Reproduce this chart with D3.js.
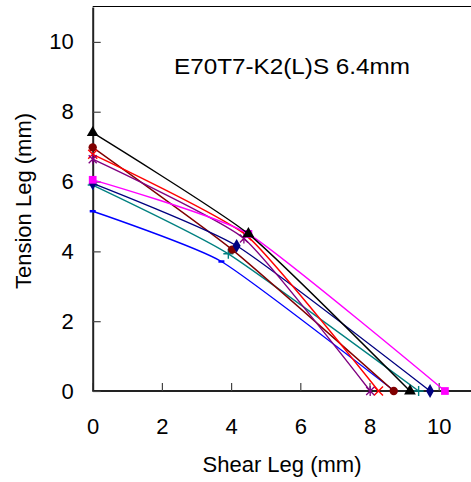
<!DOCTYPE html>
<html><head><meta charset="utf-8">
<script src="https://cdn.jsdelivr.net/npm/d3@7"></script>
<style>body{margin:0;background:#fff}svg{display:block;font-family:Arial,"Liberation Sans",sans-serif}</style>
</head><body><svg id="c" width="471" height="482"></svg>
<script>
const xTicks = [0, 2, 4, 6, 8, 10];
const yTicks = [0, 2, 4, 6, 8, 10];
const seriesNames = ["black", "maroon", "red", "purple", "magenta", "navy", "teal", "blue"];
const seriesColors = ["#000000", "#800000", "#ff0000", "#800080", "#ff00ff", "#000080", "#008080", "#0000ff"];
const seriesMarkers = ["triangle", "circle", "x", "asterisk", "square", "diamond", "plus", "dash"];
const shearValues = [
  [0, 4.5, 9.17],
  [0, 4.03, 8.7],
  [0, 4.45, 8.26],
  [0, 4.37, 8.02],
  [0, 4.5, 10.18],
  [0, 4.16, 9.75],
  [0, 3.92, 9.42],
  [0, 3.72, 8.72]
];
const tensionValues = [
  [7.4, 4.5, 0],
  [6.98, 4.05, 0],
  [6.78, 4.45, 0],
  [6.64, 4.37, 0],
  [6.05, 4.5, 0],
  [5.95, 4.16, 0],
  [5.9, 3.93, 0],
  [5.15, 3.71, 0]
];
const chartTitle = "E70T7-K2(L)S 6.4mm";
const xLabel = "Shear Leg (mm)";
const yLabel = "Tension Leg (mm)";

const svg = d3.select("#c");
const x = d3.scaleLinear().domain([0, 11]).range([92.7, 473.3]);
const y = d3.scaleLinear().domain([0, 11]).range([391, 7]);

svg.append("line").attr("x1", x(0)).attr("x2", 471).attr("y1", y(11) - 0.5).attr("y2", y(11) - 0.5)
  .attr("stroke", "#000").attr("stroke-width", 1.2);

const xAxis = svg.append("g").attr("transform", `translate(0,${y(0)})`)
  .call(d3.axisBottom(x).tickValues(xTicks).tickSize(-8).tickPadding(27).tickSizeOuter(0));
const yAxis = svg.append("g").attr("transform", `translate(${x(0)},0)`)
  .call(d3.axisLeft(y).tickValues(yTicks).tickSize(-8).tickPadding(19).tickSizeOuter(0));
[xAxis, yAxis].forEach(a => {
  a.select(".domain").attr("stroke", "#222").attr("stroke-width", 2);
  a.selectAll(".tick line").attr("stroke", "#444").attr("stroke-width", 1.2);
  a.selectAll(".tick text").attr("font-size", 22).attr("fill", "#000").attr("font-family", "Arial, 'Liberation Sans', sans-serif");
});
xAxis.select(".domain").attr("d", `M${x(0)},0H471`);

const line = d3.line().x(d => x(d[0])).y(d => y(d[1])).curve(d3.curveCardinal.tension(0.5));

const sym = {
  triangle: d3.symbol().type(d3.symbolTriangle).size(60),
  circle: d3.symbol().type(d3.symbolCircle).size(55),
  square: d3.symbol().type(d3.symbolSquare).size(60),
  diamond: d3.symbol().type(d3.symbolDiamond).size(55)
};

const order = [6, 7, 1, 5, 2, 3, 4, 0];
order.forEach(i => {
  const pts = shearValues[i].map((v, j) => [v, tensionValues[i][j]]);
  const c = seriesColors[i];
  svg.append("path").attr("d", line(pts)).attr("fill", "none").attr("stroke", c).attr("stroke-width", 1.4);
  const g = svg.append("g");
  pts.forEach(p => {
    const px = x(p[0]), py = y(p[1]);
    const m = seriesMarkers[i];
    if (sym[m]) {
      g.append("path").attr("d", sym[m]()).attr("transform", `translate(${px},${py})`).attr("fill", c);
    } else if (m === "x") {
      g.append("path").attr("d", `M${px-4.5},${py-4.5}L${px+4.5},${py+4.5}M${px-4.5},${py+4.5}L${px+4.5},${py-4.5}`)
        .attr("stroke", c).attr("stroke-width", 1.4);
    } else if (m === "asterisk") {
      g.append("path").attr("d", `M${px-4},${py-4}L${px+4},${py+4}M${px-4},${py+4}L${px+4},${py-4}M${px},${py-5}L${px},${py+5}`)
        .attr("stroke", c).attr("stroke-width", 1.3);
    } else if (m === "plus") {
      g.append("path").attr("d", `M${px-5},${py}L${px+5},${py}M${px},${py-5}L${px},${py+5}`)
        .attr("stroke", c).attr("stroke-width", 1.4);
    } else if (m === "dash") {
      g.append("path").attr("d", `M${px-3},${py}L${px+3},${py}`).attr("stroke", c).attr("stroke-width", 2.5);
    }
  });
});

svg.append("text").attr("x", 292).attr("y", 74).attr("text-anchor", "middle").attr("font-size", 22)
  .attr("textLength", 236).attr("lengthAdjust", "spacingAndGlyphs").text(chartTitle);
svg.append("text").attr("x", 282).attr("y", 472).attr("text-anchor", "middle").attr("font-size", 22).text(xLabel);
svg.append("text").attr("transform", `translate(31,201) rotate(-90)`).attr("text-anchor", "middle").attr("font-size", 22).text(yLabel);
</script></body></html>
